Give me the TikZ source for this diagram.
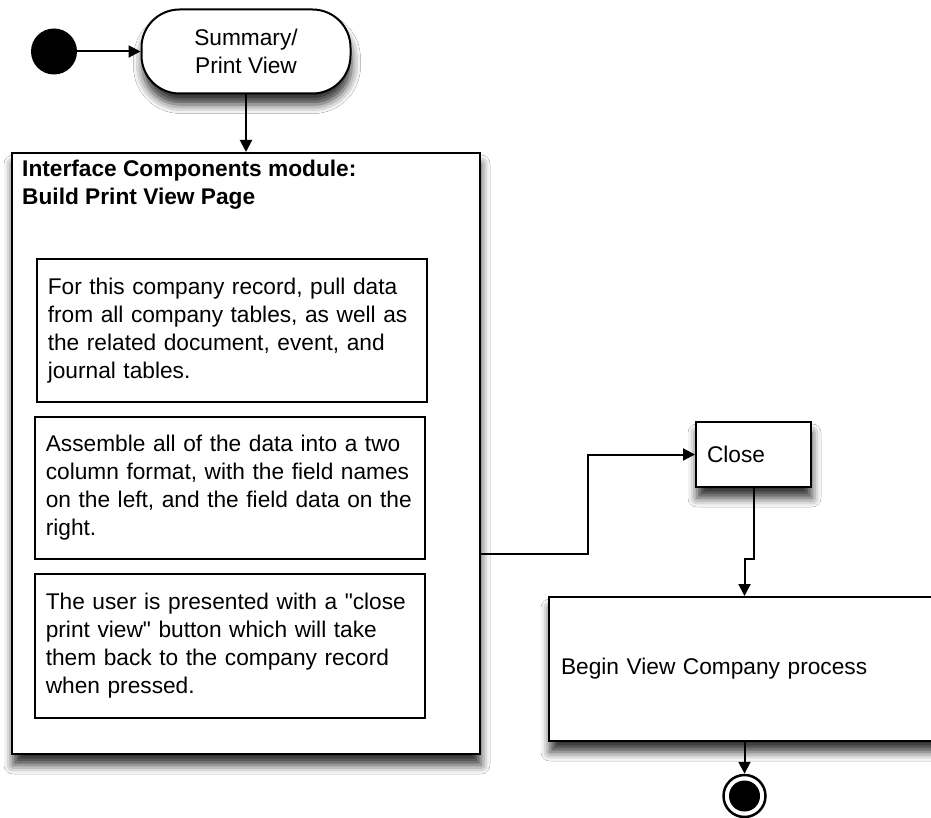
\documentclass[tikz,border=0pt]{standalone}
\usepackage{fontspec}
\setmainfont{Liberation Sans}[Ligatures=TeXOff]
\usetikzlibrary{arrows.meta,shadows.blur}
\begin{document}
\begin{tikzpicture}[x=1pt,y=-1pt,
  every node/.style={font=\fontsize{22.7}{28}\selectfont},
  edge/.style={line width=2pt, -{Triangle[length=12pt,width=12pt]}},
  boxshadow/.style={blur shadow={shadow xshift=1pt, shadow yshift=-11pt,
      shadow blur radius=9pt, shadow opacity=80}},
  actbox/.style={draw, line width=2pt, fill=white, rectangle, align=left,
      inner ysep=0pt},
  stepbox/.style={actbox, text width=368pt, inner xsep=11pt},
  initial/.style={circle, fill=black, minimum size=46pt, inner sep=0pt},
  final/.style={circle, draw, line width=2.5pt, fill=white, minimum size=42pt,
      inner sep=0pt},
]
% page area
\fill[white] (0,0) rectangle (931,818);
\useasboundingbox (0,0) rectangle (931,818);

% start state and first activity
\node[initial] (start) at (54,51.5) {};
\node[draw, line width=2pt, fill=white, rounded corners=38pt,
      minimum width=209pt, minimum height=84pt, align=center, boxshadow]
      (pill) at (246,51.5) {Summary/\\Print View};

% module container with its three steps
\node[actbox, boxshadow, minimum width=468pt, minimum height=601pt]
      (module) at (246,453.5) {};
\node[anchor=north west, inner sep=0pt, align=left,
      font=\bfseries\fontsize{22.7}{28}\selectfont]
      (title) at ([xshift=11pt,yshift=-8pt]module.north west)
      {Interface Components module:\\Build Print View Page};

\node[stepbox, minimum height=143pt] (r1) at (231.8,330.5)
  {\begin{tabular}{@{}l@{}}For this company record, pull data\\from all company tables, as well as\\the related document, event, and\\journal tables.\end{tabular}};
\node[stepbox, minimum height=142pt] (r2) at (229.8,488)
  {\begin{tabular}{@{}l@{}}Assemble all of the data into a two\\column format, with the field names\\on the left, and the field data on the\\right.\end{tabular}};
\node[stepbox, minimum height=144pt] (r3) at (229.8,646)
  {\begin{tabular}{@{}l@{}}The user is presented with a "close\\print view" button which will take\\them back to the company record\\when pressed.\end{tabular}};

% right-hand activities
\node[actbox, boxshadow, text width=93pt, inner xsep=11pt, minimum height=65pt]
      (close) at (753.5,454.5) {Close};
\node[actbox, boxshadow, text width=367pt, inner xsep=12pt, minimum height=144pt]
      (begin) at (744.5,669) {Begin View Company process};

% final state
\node[final] (end) at (744.5,796) {};
\fill (end.center) circle (15.5pt);

% transitions
\coordinate (bend) at (588,554);
\draw[edge] (start) -- (pill);
\draw[edge] (pill) -- (module);
\draw[edge] ([yshift=-100.5pt]module.east) -- (bend) |- (close.west);
\draw[edge] (close.south) -- ++(0,71) -| (begin.north);
\draw[edge] (begin.south) -- (end.north);
\end{tikzpicture}
\end{document}
